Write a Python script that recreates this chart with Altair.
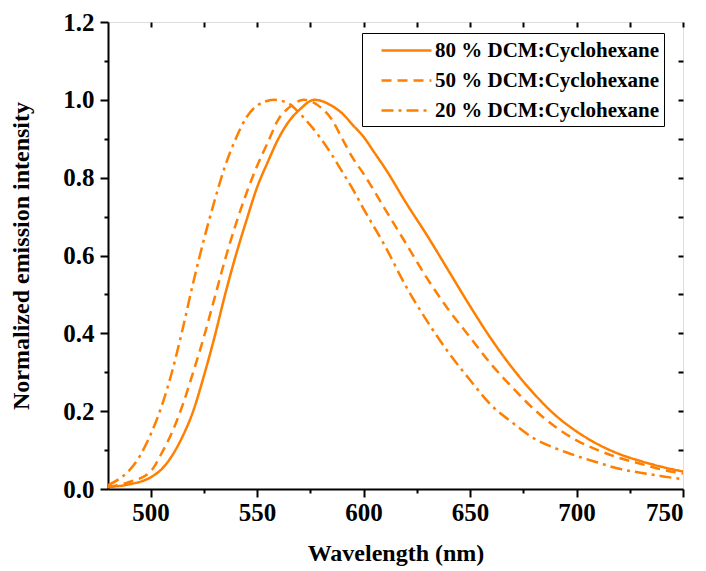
import altair as alt
import pandas as pd

# ---- data ----
wl_80 = [480, 490, 500, 505, 510, 515, 520, 525, 530, 535, 540, 545, 550, 555, 560, 565, 570, 577,
         585, 590, 595, 600, 605, 610, 620, 630, 640, 650, 660, 670, 680, 690, 700, 710, 720, 730, 740, 750]
int_80 = [0.005, 0.012, 0.03, 0.05, 0.085, 0.135, 0.2, 0.29, 0.39, 0.5, 0.6, 0.69, 0.775, 0.84, 0.9, 0.945, 0.975, 1.0,
          0.985, 0.965, 0.935, 0.905, 0.865, 0.825, 0.735, 0.65, 0.56, 0.47, 0.385, 0.31, 0.245, 0.19, 0.148, 0.115, 0.09, 0.072, 0.057, 0.045]

wl_50 = [480, 490, 500, 505, 510, 515, 520, 525, 530, 535, 540, 545, 550, 555, 560, 565, 572,
         580, 585, 590, 595, 600, 610, 620, 630, 640, 650, 660, 670, 680, 690, 700, 710, 720, 730, 740, 750]
int_50 = [0.005, 0.018, 0.045, 0.09, 0.145, 0.215, 0.3, 0.39, 0.49, 0.59, 0.68, 0.76, 0.83, 0.89, 0.95, 0.98, 1.0,
          0.98, 0.95, 0.9, 0.85, 0.81, 0.72, 0.63, 0.54, 0.46, 0.39, 0.32, 0.26, 0.205, 0.16, 0.125, 0.1, 0.08, 0.065, 0.05, 0.04]

wl_20 = [480, 485, 490, 495, 500, 505, 510, 515, 520, 525, 530, 535, 540, 545, 550, 558,
         565, 570, 575, 580, 585, 590, 595, 600, 610, 620, 630, 640, 650, 660, 670, 680, 690, 700, 710, 720, 730, 740, 750]
int_20 = [0.01, 0.025, 0.048, 0.085, 0.14, 0.21, 0.3, 0.41, 0.53, 0.64, 0.74, 0.83, 0.9, 0.955, 0.985, 1.0,
          0.99, 0.965, 0.935, 0.9, 0.86, 0.815, 0.77, 0.72, 0.625, 0.52, 0.43, 0.35, 0.28, 0.215, 0.17, 0.13, 0.105, 0.085, 0.068, 0.052, 0.042, 0.033, 0.025]

series_names = ["80 % DCM:Cyclohexane", "50 % DCM:Cyclohexane", "20 % DCM:Cyclohexane"]
x_major = [500, 550, 600, 650, 700, 750]
x_minor = [525, 575, 625, 675, 725]
x_all = [500, 525, 550, 575, 600, 625, 650, 675, 700, 725, 750]
y_major = [0.0, 0.2, 0.4, 0.6, 0.8, 1.0, 1.2]
y_minor = [0.1, 0.3, 0.5, 0.7, 0.9, 1.1]
y_all = [0.1, 0.2, 0.3, 0.4, 0.5, 0.6, 0.7, 0.8, 0.9, 1.0, 1.1]

rows = []
for name, wl, iv in zip(series_names, [wl_80, wl_50, wl_20], [int_80, int_50, int_20]):
    for w, v in zip(wl, iv):
        rows.append({"wl": w, "val": v, "series": name})
df = pd.DataFrame(rows)

W, H = 575, 467
FONT = "Times New Roman, Liberation Serif, serif"
ORANGE = "#FF7F00"

xs = alt.Scale(domain=[480, 750], nice=False, zero=False)
ys = alt.Scale(domain=[0, 1.2], nice=False)

base = alt.Chart(df)

lines = base.mark_line(strokeWidth=2.5, color=ORANGE, clip=True, interpolate="monotone").encode(
    x=alt.X("wl:Q", scale=xs, axis=alt.Axis(
        values=x_major, tickSize=8, tickWidth=2, tickColor="black", domainColor="black", domainWidth=2,
        labelFont=FONT, labelFontSize=25, labelFontWeight="bold", labelColor="black", labelPadding=3,
        title="Wavelength (nm)", titleFont=FONT, titleFontSize=24, titleFontWeight="bold",
        titleColor="black", titlePadding=16, grid=False)),
    y=alt.Y("val:Q", scale=ys, axis=alt.Axis(
        values=y_major, format=".1f", tickSize=8, tickWidth=2, tickColor="black", domainColor="black", domainWidth=2,
        labelFont=FONT, labelFontSize=25, labelFontWeight="bold", labelColor="black", labelPadding=6,
        title="Normalized emission intensity", titleFont=FONT, titleFontSize=24, titleFontWeight="bold",
        titleColor="black", titlePadding=29, grid=False)),
    strokeDash=alt.StrokeDash("series:N", scale=alt.Scale(domain=series_names,
                                                          range=[[1, 0], [10, 6], [12, 5, 3, 5]]),
                              legend=alt.Legend(
                                  title=None, orient="none", legendX=254, legendY=11,
                                  symbolType="M-2.27,0H2.27", symbolSize=484, symbolStrokeWidth=2.5,
                                  symbolStrokeColor=ORANGE, symbolOffset=27,
                                  labelFont=FONT, labelFontSize=21,
                                  labelFontWeight="bold", labelColor="black", labelLimit=400,
                                  rowPadding=7, padding=5, strokeColor="black", fillColor="white",
                                  cornerRadius=0, labelOffset=16)),
)

def ghost(xaxis, yaxis):
    return base.mark_line(strokeOpacity=0, opacity=0).encode(
        x=alt.X("wl:Q", scale=xs, axis=xaxis),
        y=alt.Y("val:Q", scale=ys, axis=yaxis),
    )

common = dict(labels=False, title=None, domain=False, grid=False, tickColor="black", tickWidth=2)

minor = ghost(
    alt.Axis(orient="bottom", values=x_minor, tickSize=4, **common),
    alt.Axis(orient="left", values=y_minor, tickSize=4, **common),
)
inner = ghost(
    alt.Axis(orient="bottom", offset=-H, values=x_all, tickSize=5, **common),
    alt.Axis(orient="left", offset=-W, values=y_all, tickSize=5, **common),
)

chart = alt.layer(lines, minor, inner).resolve_axis(x="independent", y="independent").properties(
    width=W, height=H,
    autosize=alt.AutoSizeParams(type="none"),
    padding={"left": 108, "top": 22, "right": 23, "bottom": 82},
).configure_view(stroke="black", strokeWidth=2).configure(background="white")

chart.save("out.html", embed_options={"renderer": "svg", "actions": False})
